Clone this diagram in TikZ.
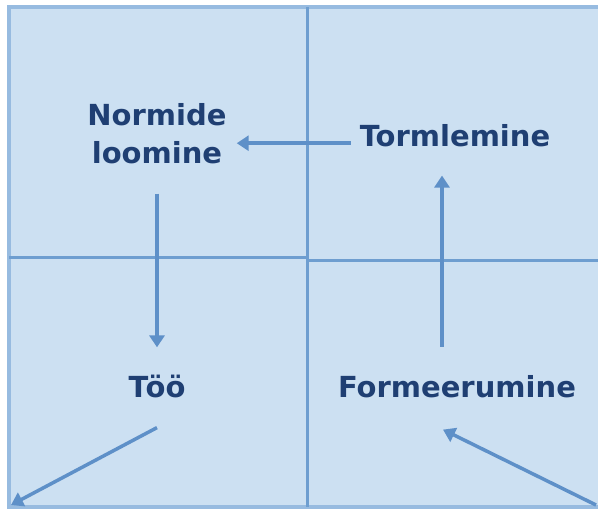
\documentclass[tikz,border=0pt]{standalone}
\usepackage{fontspec}
\setmainfont{DejaVu Sans}
\usetikzlibrary{arrows.meta,calc}
\definecolor{bgblue}{HTML}{CCE0F2}
\definecolor{frame}{HTML}{97BBE0}
\definecolor{divider}{HTML}{6E9ED0}
\definecolor{arrowc}{HTML}{5E90C8}
\definecolor{txt}{HTML}{1F3F73}
\tikzset{
  lbl/.style={font=\fontsize{29}{38}\selectfont\bfseries, text=txt, inner sep=4pt, align=center},
  arr/.style={draw=arrowc, line width=3.5pt, -{Triangle[length=12pt,width=15pt]}},
}
\begin{document}
\begin{tikzpicture}[x=1pt,y=-1pt]
\useasboundingbox (0,0) rectangle (598,509);
\fill[bgblue] (9,7) rectangle (602,507);
\draw[frame, line width=4pt] (602,7) -- (9,7) -- (9,507) -- (602,507);
\draw[divider, line width=3pt] (307,7) -- (307,507);
\draw[divider, line width=3pt] (9,257) -- (307,257);
\draw[divider, line width=3pt] (307,260) -- (602,260);

\node[lbl, anchor=base] (nor) at (157,163) {Normide\\loomine};
\node[lbl, anchor=base] (tor) at (455,146) {Tormlemine};
\node[lbl, anchor=base] (too) at (157,397) {Töö};
\node[lbl, anchor=base] (for) at (457,397) {Formeerumine};
\coordinate (cl) at (11,505);
\coordinate (cr) at (596,505);

\draw[arr] ($(tor.west)+(-5,8)$) -- ($(nor.east)+(6,10)$);
\draw[arr] ($(nor.south)+(0,26)$) -- ($(too.north)+(0,-23)$);
\draw[arr] ($(for.north)+(-15,-24)$) -- ($(tor.south)+(-13,25)$);
\draw[arr] ($(too.south)+(0,26)$) -- (cl);
\draw[arr] (cr) -- ($(for.south)+(-14,28)$);
\end{tikzpicture}
\end{document}
